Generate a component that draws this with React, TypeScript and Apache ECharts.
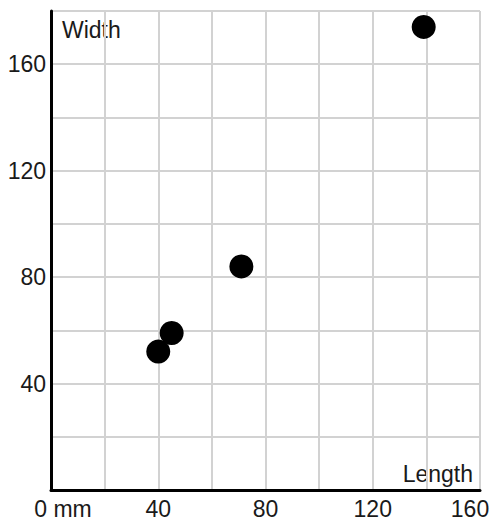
import React, { useEffect, useRef } from "react";
import * as echarts from "echarts";

const points: [number, number][] = [
  [40, 52],
  [45, 59],
  [71, 84],
  [139, 174],
];
const xLabels: number[] = [0, 40, 80, 120, 160];
const yLabels: number[] = [40, 80, 120, 160];
const xName = "Length";
const yName = "Width";
const xUnit = "mm";

const FONT = "Liberation Sans";
const FS = 23;
const TXT = "#1a1a1a";

export default function App() {
  const ref = useRef<HTMLDivElement>(null);
  useEffect(() => {
    if (!ref.current) return;
    const chart = echarts.init(ref.current, undefined, { renderer: "svg" });
    chart.setOption({
      animation: false,
      grid: { left: 51, top: 11, right: 18, bottom: 28, containLabel: false },
      xAxis: {
        type: "value",
        min: 0,
        max: 160,
        interval: 20,
        axisLine: { show: true, onZero: false, lineStyle: { color: "#000", width: 3 } },
        axisTick: { show: false },
        splitLine: { show: true, lineStyle: { color: "#d2d2d2", width: 2 } },
        axisLabel: {
          margin: 7,
          color: TXT,
          fontFamily: FONT,
          fontSize: FS,
          showMinLabel: true,
          showMaxLabel: true,
          formatter: (v: number) => {
            if (!xLabels.includes(v)) return "";
            if (v === 0) return `{first|${v} ${xUnit}}`;
            if (v === 160) return `{last|${v}}`;
            return `${v}`;
          },
          rich: {
            first: { fontFamily: FONT, fontSize: FS, color: TXT, padding: [0, 0, 0, 24] },
            last: { fontFamily: FONT, fontSize: FS, color: TXT, padding: [0, 20, 0, 0] },
          },
        },
      },
      yAxis: {
        type: "value",
        min: 0,
        max: 180,
        interval: 20,
        axisLine: { show: true, onZero: false, lineStyle: { color: "#000", width: 3 } },
        axisTick: { show: false },
        splitLine: { show: true, lineStyle: { color: "#d2d2d2", width: 2 } },
        axisLabel: {
          margin: 5,
          color: TXT,
          fontFamily: FONT,
          fontSize: FS,
          formatter: (v: number) => (yLabels.includes(v) ? `${v}` : ""),
        },
      },
      graphic: [
        {
          type: "text",
          left: 62,
          top: 18,
          style: { text: yName, fontFamily: FONT, fontSize: FS, fill: TXT },
        },
        {
          type: "text",
          right: 25,
          top: 462,
          style: { text: xName, fontFamily: FONT, fontSize: FS, fill: TXT },
        },
      ],
      series: [
        {
          type: "scatter",
          data: points,
          symbol: "circle",
          symbolSize: 24,
          itemStyle: { color: "#000", opacity: 1 },
        },
      ],
    });
    return () => chart.dispose();
  }, []);
  return <div ref={ref} style={{ width: 498, height: 520, position: "absolute", left: 0, top: 0 }} />;
}
